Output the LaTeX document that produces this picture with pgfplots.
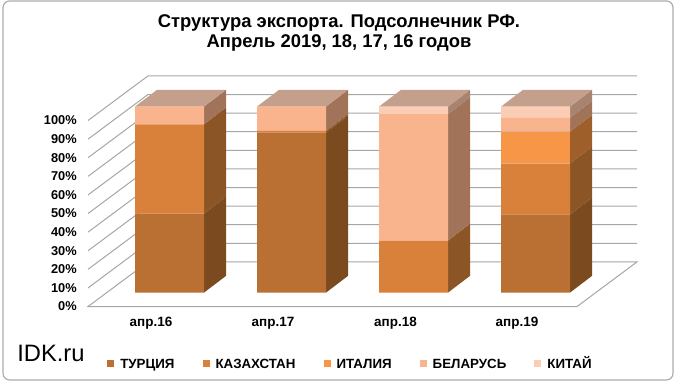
\documentclass[border=0pt]{standalone}
\usepackage{pgfplots}
\pgfplotsset{compat=1.18}
\usepackage{pgfplotstable}
\usepackage{fontspec}
\setmainfont{Liberation Sans}

\definecolor{Tf}{HTML}{BA7033}\definecolor{Ts}{HTML}{7B4A1F}
\definecolor{Kf}{HTML}{D9803A}\definecolor{Ks}{HTML}{8C5526}
\definecolor{If}{HTML}{F79646}\definecolor{Is}{HTML}{9E5F2B}
\definecolor{Bf}{HTML}{F9B48E}\definecolor{Bs}{HTML}{A17459}
\definecolor{Cf}{HTML}{FBCDB5}\definecolor{Cs}{HTML}{A8836F}
\definecolor{topc}{HTML}{C39F8C}
\definecolor{gridc}{HTML}{A6A6A6}

% front-face bar centres (px) and shares (%)
\pgfplotstableread{
x     T    K    I   B    C
169.5 42.5 48   0   9.5  0
291.5 86   1    0   13   0
413.5 0    28   0   68   4
535.5 42   27.5 17  7.5  6
}\exportdata

\pgfplotsset{
  mylayer/.style={scale only axis, width=510pt, height=288.75pt,
    xmin=0, xmax=680, ymin=-49.68, ymax=157.31, hide axis, clip=false},
  mybar/.style={fill=#1, draw=none,
    legend image code/.code={\fill[fill=#1] (0pt,-2.6pt) rectangle (5.25pt,2.6pt);}},
}

\begin{document}
\begin{tikzpicture}
\begin{axis}[mylayer]
\path (axis cs:0,-49.68) rectangle (axis cs:680,157.31);
\draw[color=gray!65, line width=0.9pt, rounded corners=5pt] (axis cs:3,-47) rectangle (axis cs:673,156.8);
% floor
\addplot[draw=gridc, fill=white, line width=0.75pt] coordinates {(88,-7.5) (148,16.5) (637,16.5) (577,-7.5)} --cycle;
% walls
\pgfplotsinvokeforeach{10,20,...,100}{
  \draw[gridc, line width=0.75pt] (axis cs:88,{#1-7.5}) -- (axis cs:148,{#1+16.5}) -- (axis cs:637,{#1+16.5});
}
\pgfplotsinvokeforeach{0,10,...,100}{
  \node[anchor=east, inner sep=0pt, font=\bfseries\fontsize{9.6}{10}\selectfont] at (axis cs:77,{#1-7.5}) {#1\%};
}
% side faces
\addplot[fill=Ts, draw=none] coordinates {(204,0)(226,9)(226,51.5)(204,42.5)} --cycle;
\addplot[fill=Ts, draw=none] coordinates {(326,0)(348,9)(348,95)(326,86)} --cycle;
\addplot[fill=Ts, draw=none] coordinates {(570,0)(592,9)(592,51)(570,42)} --cycle;
\addplot[fill=Ks, draw=none] coordinates {(204,42.5)(226,51.5)(226,99.5)(204,90.5)} --cycle;
\addplot[fill=Ks, draw=none] coordinates {(326,86)(348,95)(348,96)(326,87)} --cycle;
\addplot[fill=Ks, draw=none] coordinates {(448,0)(470,9)(470,37)(448,28)} --cycle;
\addplot[fill=Ks, draw=none] coordinates {(570,42)(592,51)(592,78.5)(570,69.5)} --cycle;
\addplot[fill=Is, draw=none] coordinates {(570,69.5)(592,78.5)(592,95.5)(570,86.5)} --cycle;
\addplot[fill=Bs, draw=none] coordinates {(204,90.5)(226,99.5)(226,109)(204,100)} --cycle;
\addplot[fill=Bs, draw=none] coordinates {(326,87)(348,96)(348,109)(326,100)} --cycle;
\addplot[fill=Bs, draw=none] coordinates {(448,28)(470,37)(470,105)(448,96)} --cycle;
\addplot[fill=Bs, draw=none] coordinates {(570,86.5)(592,95.5)(592,103)(570,94)} --cycle;
\addplot[fill=Cs, draw=none] coordinates {(448,96)(470,105)(470,109)(448,100)} --cycle;
\addplot[fill=Cs, draw=none] coordinates {(570,94)(592,103)(592,109)(570,100)} --cycle;
% top faces
\addplot[fill=topc, draw=none] coordinates {(135,100)(157,109)(226,109)(204,100)} --cycle;
\addplot[fill=topc, draw=none] coordinates {(257,100)(279,109)(348,109)(326,100)} --cycle;
\addplot[fill=topc, draw=none] coordinates {(379,100)(401,109)(470,109)(448,100)} --cycle;
\addplot[fill=topc, draw=none] coordinates {(501,100)(523,109)(592,109)(570,100)} --cycle;
% texts
\node[align=center, font=\bfseries\fontsize{13.8}{14.6}\selectfont] at (axis cs:339,139.6)
  {Структура экспорта. Подсолнечник РФ.\\Апрель 2019, 18, 17, 16 годов};
\node[font=\bfseries\fontsize{10.1}{11}\selectfont] at (axis cs:151,-16.3) {апр.16};
\node[font=\bfseries\fontsize{10.1}{11}\selectfont] at (axis cs:273,-16.3) {апр.17};
\node[font=\bfseries\fontsize{10.1}{11}\selectfont] at (axis cs:395.5,-16.3) {апр.18};
\node[font=\bfseries\fontsize{10.1}{11}\selectfont] at (axis cs:517,-16.3) {апр.19};
\node[anchor=base west, inner sep=0pt, font=\fontsize{17.8}{19}\selectfont] at (axis cs:17,-37.3) {IDK.ru};
\end{axis}

\begin{axis}[mylayer, ybar stacked, bar width=69,
  legend columns=5,
  legend style={at={(axis cs:103,-38.1)}, anchor=west, draw=none, fill=none,
    font=\bfseries\fontsize{10}{11}\selectfont,
    nodes={text height=7.2pt, text depth=0pt},
    /tikz/every odd column/.append style={column sep=2.5pt},
    /tikz/every even column/.append style={column sep=19pt}}]
\addplot[mybar=Tf] table[x=x, y=T] {\exportdata};
\addplot[mybar=Kf] table[x=x, y=K] {\exportdata};
\addplot[mybar=If] table[x=x, y=I] {\exportdata};
\addplot[mybar=Bf] table[x=x, y=B] {\exportdata};
\addplot[mybar=Cf] table[x=x, y=C] {\exportdata};
\legend{ТУРЦИЯ, КАЗАХСТАН, ИТАЛИЯ, БЕЛАРУСЬ, КИТАЙ}
\end{axis}
\end{tikzpicture}
\end{document}
